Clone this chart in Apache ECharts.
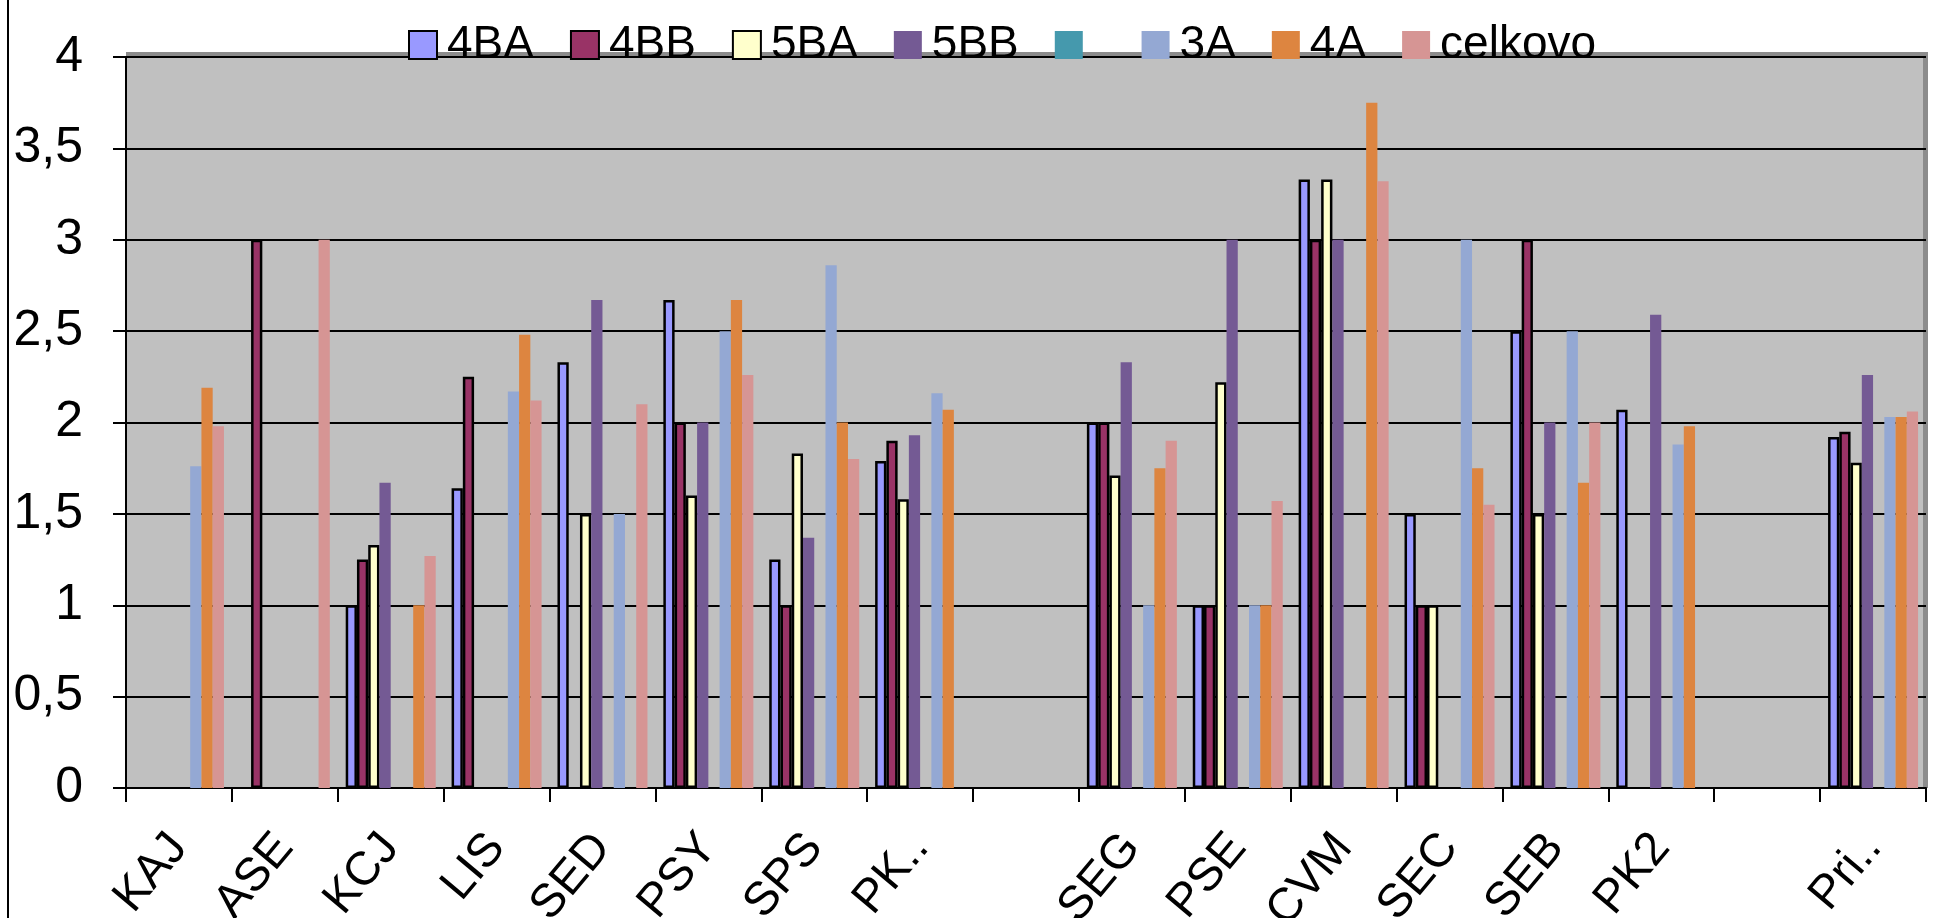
<!DOCTYPE html>
<html>
<head>
<meta charset="utf-8">
<script src="https://cdn.jsdelivr.net/npm/echarts@6/dist/echarts.min.js"></script>
<style>
html,body{margin:0;padding:0;background:#fff;}
#main{width:1933px;height:918px;}
</style>
</head>
<body>
<div id="main"></div>
<script>
// kategorie (prazdne su medzery v grafe)
var categories = ['KAJ','ASE','KCJ','LIS','SED','PSY','SPS','PK..',' ','SEG','PSE','CVM','SEC','SEB','PK2','  ','Pri..'];

var s4BA    = [null,null,1,1.64,2.33,2.67,1.25,1.79,null,2,1,3.33,1.5,2.5,2.07,null,1.92];
var s4BB    = [null,3,1.25,2.25,null,2,1,1.9,null,2,1,3,1,3,null,null,1.95];
var s5BA    = [null,null,1.33,null,1.5,1.6,1.83,1.58,null,1.71,2.22,3.33,1,1.5,null,null,1.78];
var s5BB    = [null,null,1.67,null,2.67,2,1.37,1.93,null,2.33,3,3,null,2,2.59,null,2.26];
var sEmpty  = [null,null,null,null,null,null,null,null,null,null,null,null,null,null,null,null,null];
var s3A     = [1.76,null,null,2.17,1.5,2.5,2.86,2.16,null,1,1,null,3,2.5,1.88,null,2.03];
var s4A     = [2.19,null,1,2.48,null,2.67,2,2.07,null,1.75,1,3.75,1.75,1.67,1.98,null,2.03];
var sCelkovo= [1.98,3,1.27,2.12,2.1,2.26,1.8,null,null,1.9,1.57,3.32,1.55,2,null,null,2.06];

var yTicks = {min:0, max:4, interval:0.5};

function bar(name, data, color, border){
    var s = new Object();
    s.type = 'bar';
    s.name = name;
    s.data = data;
    s.barGap = '0%';
    s.barCategoryGap = '15%';
    s.itemStyle = {color: color};
    if(border){
        s.itemStyle.borderColor = '#000';
        s.itemStyle.borderWidth = 2.5;
    }
    return s;
}

var series = [
    bar('4BA', s4BA, '#9999FF', true),
    bar('4BB', s4BB, '#993366', true),
    bar('5BA', s5BA, '#FFFFCC', true),
    bar('5BB', s5BB, '#745A94', false),
    bar(' ', sEmpty, '#4599AD', false),
    bar('3A', s3A, '#94A8D3', false),
    bar('4A', s4A, '#DD8540', false),
    bar('celkovo', sCelkovo, '#D69594', false)
];

var option = {
    animation:false,
    legend:{
        left:403,
        top:17,
        itemWidth:28,
        itemHeight:28,
        itemGap:36,
        icon:'rect',
        textStyle:{fontFamily:'Liberation Sans', fontSize:46, color:'#000', padding:[0,0,0,5]},
        data:['4BA','4BB','5BA','5BB',' ','3A','4A','celkovo']
    },
    grid:{
        left:126,
        right:7,
        top:57,
        bottom:130,
        outerBoundsMode:'none',
        containLabel:false,
        show:true,
        backgroundColor:'#C0C0C0',
        borderWidth:0
    },
    xAxis:{
        type:'category',
        data:categories,
        axisLine:{lineStyle:{color:'#000', width:2}},
        axisTick:{show:true, interval:0, length:14, lineStyle:{color:'#000', width:2}},
        axisLabel:{
            interval:0,
            rotate:50,
            margin:52,
            color:'#000',
            fontFamily:'Liberation Sans',
            fontSize:47
        }
    },
    yAxis:{
        type:'value',
        min:yTicks.min,
        max:yTicks.max,
        interval:yTicks.interval,
        axisLine:{show:true, lineStyle:{color:'#000', width:2}},
        axisTick:{show:true, length:13, lineStyle:{color:'#000', width:2}},
        splitLine:{show:true, lineStyle:{color:'#000', width:2}},
        axisLabel:{
            margin:43,
            color:'#000',
            fontFamily:'Liberation Sans',
            fontSize:50,
            formatter:function(v){ return String(v).replace('.', ','); }
        }
    },
    graphic:[
        {type:'line', shape:{x1:8, y1:0, x2:8, y2:918}, style:{stroke:'#000', lineWidth:2}},
        {type:'rect', shape:{x:126, y:52, width:1802, height:5}, style:{fill:'#8C8C8C'}},
        {type:'rect', shape:{x:1923, y:52, width:5, height:736}, style:{fill:'#8C8C8C'}}
    ],
    series:series
};

var chart = echarts.init(document.getElementById('main'));
chart.setOption(option);
</script>
</body>
</html>
